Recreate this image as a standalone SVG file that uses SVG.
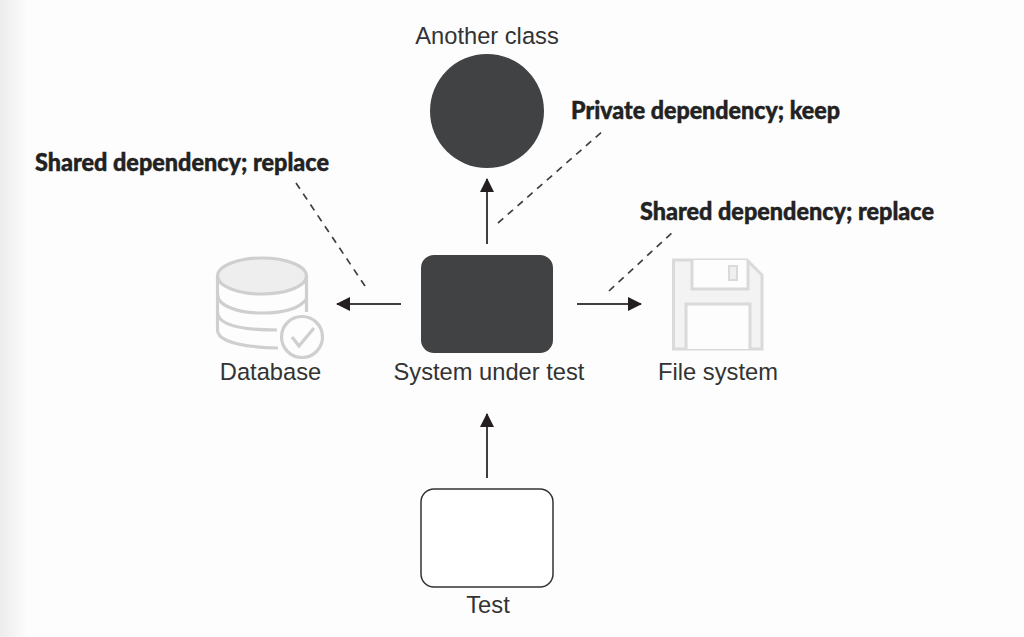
<svg xmlns="http://www.w3.org/2000/svg" width="1024" height="637" viewBox="0 0 1024 637">
<style>
.lbl{font-family:"Liberation Sans",Arial,sans-serif;font-size:23.7px;fill:#333;text-anchor:middle}
.note{font-family:Lato,"Open Sans",sans-serif;font-weight:900;font-size:24px;fill:#222;stroke:#222;stroke-width:.45}
.ln{stroke:#404040;stroke-width:2;fill:none}
.dash{stroke:#404040;stroke-width:1.7;fill:none;stroke-dasharray:7 6}
.ic{stroke:#cfcfcf;stroke-width:3.2;fill:none}
.fl{stroke:#dadada;stroke-width:3}
</style>
<defs>
<linearGradient id="edge" x1="0" x2="1" y1="0" y2="0"><stop offset="0" stop-color="#ececec"/><stop offset="1" stop-color="#fdfdfd"/></linearGradient>
<marker id="arrow" markerUnits="userSpaceOnUse" markerWidth="15" markerHeight="15" refX="13" refY="7" orient="auto"><path d="M0 0L14 7L0 14Z" fill="#231f20"/></marker>
</defs>
<rect width="1024" height="637" fill="#fdfdfd"/>
<rect width="28" height="637" fill="url(#edge)"/>
<g id="connectors">
<path class="ln" d="M487 244V179" marker-end="url(#arrow)"/>
<path class="ln" d="M401 304H337" marker-end="url(#arrow)"/>
<path class="ln" d="M577 304H641" marker-end="url(#arrow)"/>
<path class="ln" d="M487 478V414" marker-end="url(#arrow)"/>
<path class="dash" d="M498 223L604 130"/>
<path class="dash" d="M365 286L296 183"/>
<path class="dash" d="M609 291L675 230"/>
</g>
<g id="another-class"><circle cx="487" cy="111" r="57" fill="#414244"/><text class="lbl" x="487" y="44">Another class</text></g>
<g id="sut"><rect x="421" y="255" width="132" height="98" rx="13" fill="#414244"/><text class="lbl" x="489" y="380">System under test</text></g>
<g id="test"><rect x="421" y="489" width="132" height="98" rx="13" fill="#fff" stroke="#333" stroke-width="1.5"/><text class="lbl" x="488" y="613">Test</text></g>
<g id="database">
<ellipse cx="262" cy="276" rx="44.5" ry="18" fill="#eeeeee" stroke="#cfcfcf" stroke-width="3.2"/>
<path class="ic" d="M217.500 276V330C217.500 341 240 347 278 348M306.500 276V312M217.500 294C217.500 306 238 313 262 313C284 313 300 308 306.500 299M217.500 312C217.500 324 238 330 277 330"/>
<circle cx="302" cy="337" r="20.500" fill="#fdfdfd" stroke="#cfcfcf" stroke-width="3.2"/>
<path d="M292 337L299 346L314 328" stroke="#cfcfcf" stroke-width="3.2" fill="none"/>
<text class="lbl" x="270.500" y="380">Database</text>
</g>
<g id="file-system">
<path class="fl" d="M673.500 260H747L762 275V349H673.500Z" fill="#f3f3f3"/>
<path class="fl" d="M692 260V289H748V260" fill="#fdfdfd"/>
<rect class="fl" x="729" y="266" width="8" height="14" fill="#efefef" style="stroke-width:2"/>
<path class="fl" d="M686 349V304H750V349" fill="#fdfdfd"/>
<text class="lbl" x="718" y="380">File system</text>
</g>
<g id="notes">
<text class="note" x="35" y="171" textLength="294" lengthAdjust="spacingAndGlyphs">Shared dependency; replace</text>
<text class="note" x="571" y="119" textLength="269" lengthAdjust="spacingAndGlyphs">Private dependency; keep</text>
<text class="note" x="640" y="220" textLength="294" lengthAdjust="spacingAndGlyphs">Shared dependency; replace</text>
</g>
</svg>
